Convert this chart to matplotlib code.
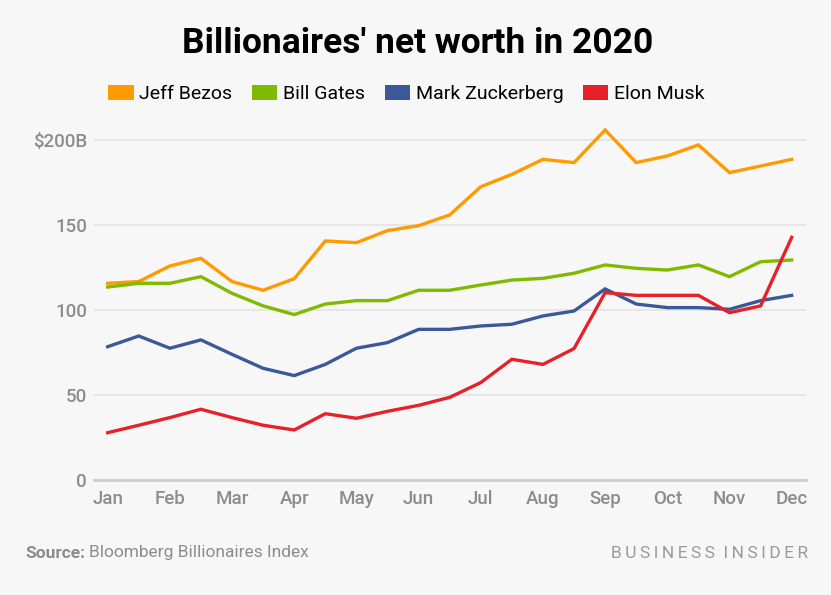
import matplotlib
matplotlib.use("Agg")
import matplotlib.pyplot as plt
from matplotlib.patches import Patch
from matplotlib.transforms import offset_copy

plt.rcParams['font.family'] = ['Roboto', 'DejaVu Sans']

# half-month steps, Jan .. Dec (23 points)
months = ['Jan', 'Feb', 'Mar', 'Apr', 'May', 'Jun', 'Jul', 'Aug', 'Sep', 'Oct', 'Nov', 'Dec']

bezos = [115.7, 116.7, 125.9, 130.4, 116.7, 111.6, 118.4, 140.6, 139.6, 146.7, 149.6, 155.9,
         172.5, 179.8, 188.6, 186.7, 205.9, 186.7, 190.6, 197.1, 180.8, 184.7, 188.6]
gates = [113.5, 115.7, 115.7, 119.6, 109.8, 102.4, 97.3, 103.5, 105.5, 105.5, 111.6, 111.6,
         114.7, 117.6, 118.6, 121.6, 126.5, 124.5, 123.5, 126.5, 119.6, 128.4, 129.4]
zuckerberg = [78.4, 84.7, 77.5, 82.4, 73.9, 65.7, 61.4, 68.0, 77.5, 80.8, 88.6, 88.6,
              90.6, 91.6, 96.5, 99.4, 112.4, 103.5, 101.4, 101.4, 100.4, 105.5, 108.6]
musk = [27.8, 32.2, 36.7, 41.6, 36.7, 32.2, 29.4, 39.0, 36.3, 40.4, 43.9, 48.6,
        57.3, 71.0, 68.0, 77.3, 110.2, 108.6, 108.6, 108.6, 98.4, 102.4, 142.7]

names = ['Jeff Bezos', 'Bill Gates', 'Mark Zuckerberg', 'Elon Musk']
colors = ['#ff9a00', '#7fba00', '#3b5998', '#e6212a']
series = [bezos, gates, zuckerberg, musk]

yticks = [0, 50, 100, 150, 200]
ytick_labels = ['0', '50', '100', '150', '$200B']

bg = '#f7f7f7'
grey = '#8c8c8c'

fig = plt.figure(figsize=(8.31, 5.95), dpi=100, facecolor=bg)
ax = fig.add_axes([0.1131, 0.1933, 0.8568, 0.6143])
ax.set_facecolor(bg)

x = list(range(len(bezos)))
for vals, c in zip(series, colors):
    ax.plot(x, vals, color=c, lw=2.4, solid_joinstyle='miter', zorder=3)

ax.set_xlim(-0.44, 22.46)
ax.set_ylim(0, 215)

ax.set_yticks(yticks)
ax.set_yticklabels(ytick_labels)
ax.set_xticks(range(0, 23, 2))
ax.set_xticklabels(months)

for v in yticks[1:]:
    ax.axhline(v, color='#e5e5e5', lw=1.3, zorder=1)

for s in ['top', 'right', 'left']:
    ax.spines[s].set_visible(False)
ax.spines['bottom'].set_color('#cdcdcd')
ax.spines['bottom'].set_linewidth(2)

ax.tick_params(axis='both', length=0, colors=grey, labelsize=13.5)
ax.tick_params(axis='x', pad=7)
ax.tick_params(axis='y', pad=5)
for lab in ax.get_xticklabels() + ax.get_yticklabels():
    lab.set_fontweight('medium')

fig.text(0.503, 0.927, "Billionaires' net worth in 2020", ha='center', va='center',
         fontsize=25.5, fontweight='bold', color='black')

handles = [Patch(facecolor=c, edgecolor='none') for c in colors]
fig.legend(handles, names, loc='center', bbox_to_anchor=(0.489, 1 - 94 / 595), ncol=4,
           frameon=False, fontsize=14, handlelength=1.3, handleheight=0.8,
           handletextpad=0.3, columnspacing=1.0)

src = fig.text(25 / 831, 1 - 553 / 595, 'Source:', fontsize=12.5, fontweight='bold', color=grey,
               ha='left', va='center')
renderer = fig.canvas.get_renderer()
bb = src.get_window_extent(renderer)
fig.text(bb.x1 + 4, bb.y0 + bb.height / 2, 'Bloomberg Billionaires Index', fontsize=12.5,
         color=grey, ha='left', va='center', transform=None)
fig.text(808 / 831, 1 - 553 / 595, '\u2009'.join('BUSINESS') + '  ' + '\u2009'.join('INSIDER'),
         fontsize=12.5, color='#9a9a9a', ha='right', va='center')

fig.savefig('out.png', dpi=100, facecolor=bg)
